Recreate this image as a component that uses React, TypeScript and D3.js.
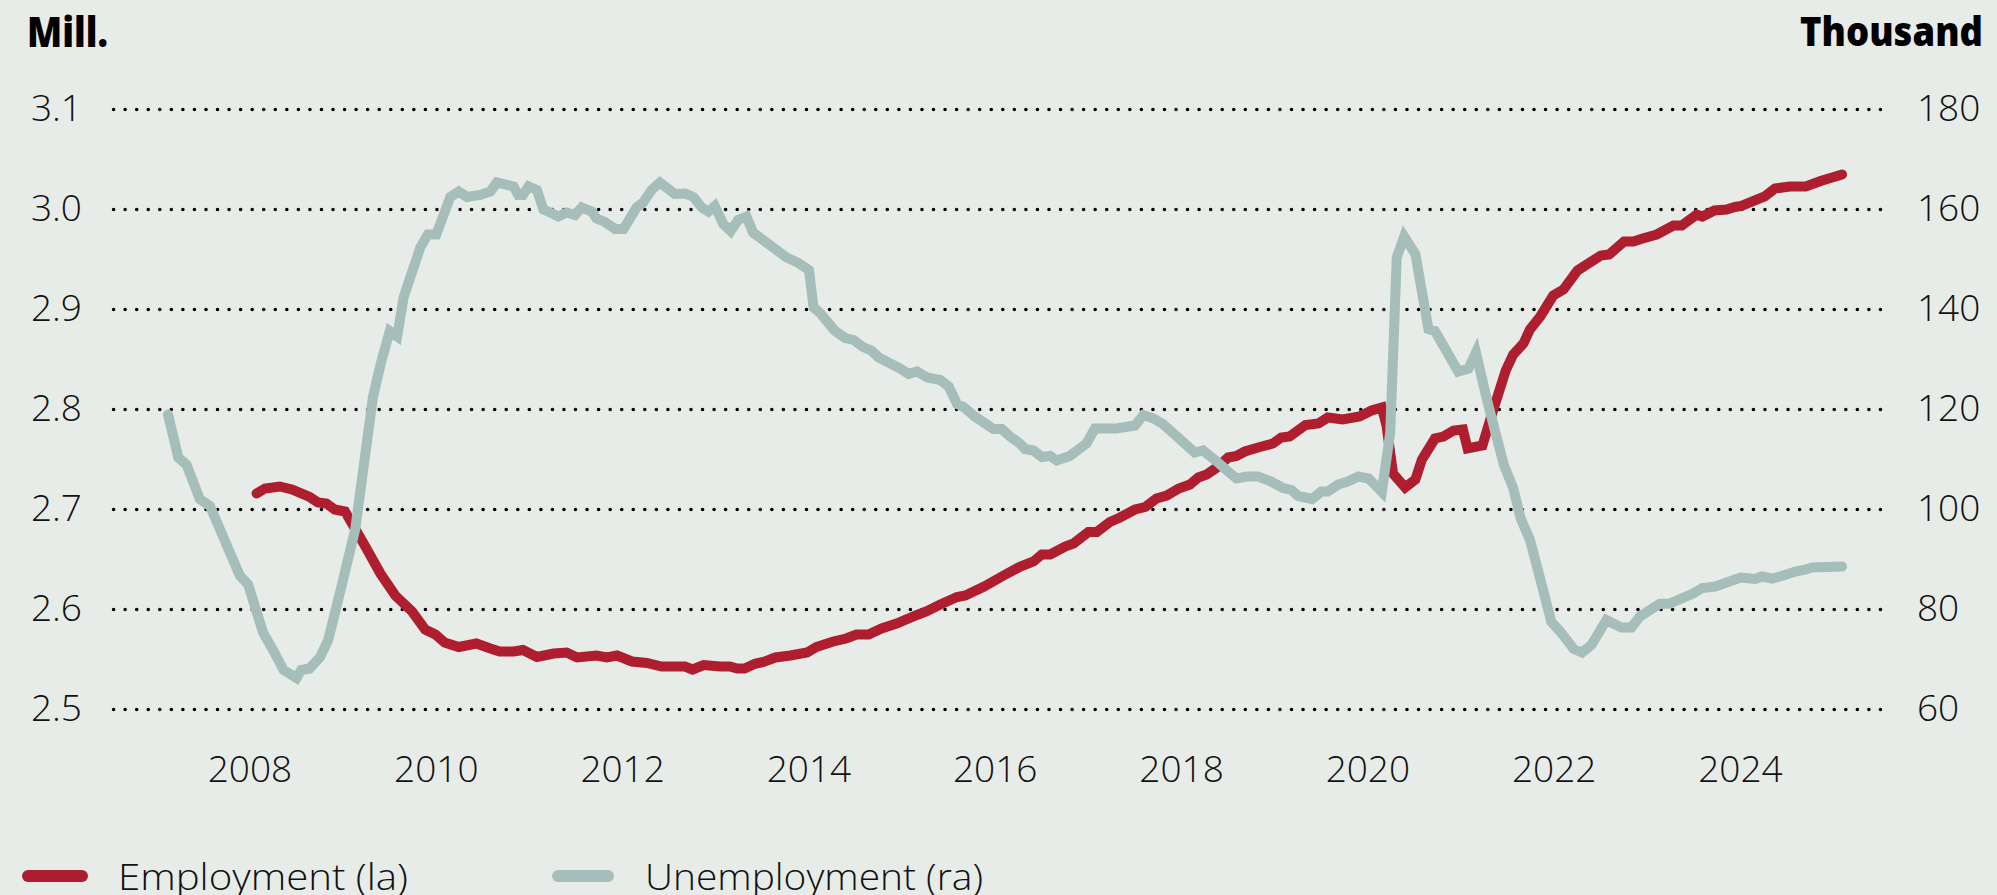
import React from 'react';
import * as d3 from 'd3';

const W = 1997;
const H = 895;

const xTickYears = [2008, 2010, 2012, 2014, 2016, 2018, 2020, 2022, 2024];
const leftTicks = [2.5, 2.6, 2.7, 2.8, 2.9, 3.0, 3.1];
const rightTicks = [60, 80, 100, 120, 140, 160, 180];

// Employment (mill.), left axis — dates as decimal years
const employmentDates = [2008.07, 2008.16, 2008.32, 2008.45, 2008.64, 2008.73, 2008.82, 2008.91, 2009.02, 2009.22, 2009.40, 2009.56, 2009.74, 2009.88, 2009.99, 2010.09, 2010.24, 2010.43, 2010.58, 2010.68, 2010.83, 2010.93, 2011.08, 2011.26, 2011.40, 2011.51, 2011.72, 2011.83, 2011.94, 2012.10, 2012.26, 2012.42, 2012.67, 2012.75, 2012.87, 2013.05, 2013.15, 2013.23, 2013.31, 2013.42, 2013.51, 2013.64, 2013.80, 2013.98, 2014.08, 2014.26, 2014.40, 2014.51, 2014.64, 2014.78, 2014.94, 2015.16, 2015.26, 2015.41, 2015.59, 2015.68, 2015.88, 2016.09, 2016.27, 2016.41, 2016.50, 2016.59, 2016.75, 2016.84, 2017.00, 2017.09, 2017.23, 2017.34, 2017.50, 2017.61, 2017.73, 2017.84, 2017.97, 2018.09, 2018.18, 2018.27, 2018.38, 2018.50, 2018.59, 2018.68, 2018.84, 2018.98, 2019.07, 2019.16, 2019.33, 2019.47, 2019.57, 2019.73, 2019.91, 2020.04, 2020.15, 2020.20, 2020.27, 2020.40, 2020.51, 2020.58, 2020.72, 2020.81, 2020.92, 2021.02, 2021.07, 2021.23, 2021.33, 2021.48, 2021.56, 2021.67, 2021.74, 2021.85, 2021.99, 2022.10, 2022.25, 2022.35, 2022.50, 2022.59, 2022.75, 2022.85, 2022.95, 2023.10, 2023.28, 2023.37, 2023.53, 2023.59, 2023.72, 2023.85, 2023.94, 2024.01, 2024.26, 2024.37, 2024.53, 2024.70, 2024.86, 2025.09];
const employmentValues = [2.716, 2.721, 2.723, 2.720, 2.7125, 2.707, 2.706, 2.700, 2.698, 2.666, 2.636, 2.614, 2.598, 2.580, 2.575, 2.567, 2.5625, 2.566, 2.561, 2.558, 2.558, 2.5595, 2.5525, 2.556, 2.557, 2.552, 2.554, 2.552, 2.554, 2.548, 2.5465, 2.543, 2.543, 2.540, 2.5445, 2.543, 2.543, 2.541, 2.541, 2.5457, 2.5475, 2.552, 2.554, 2.557, 2.5625, 2.568, 2.571, 2.575, 2.575, 2.581, 2.586, 2.5945, 2.598, 2.605, 2.6125, 2.614, 2.623, 2.634, 2.643, 2.648, 2.655, 2.655, 2.663, 2.666, 2.6775, 2.6775, 2.6875, 2.692, 2.700, 2.7025, 2.711, 2.714, 2.721, 2.725, 2.732, 2.735, 2.742, 2.752, 2.7535, 2.758, 2.7625, 2.766, 2.772, 2.773, 2.7845, 2.786, 2.792, 2.790, 2.793, 2.799, 2.802, 2.784, 2.736, 2.722, 2.730, 2.750, 2.771, 2.773, 2.779, 2.780, 2.761, 2.764, 2.795, 2.839, 2.855, 2.866, 2.880, 2.893, 2.914, 2.920, 2.939, 2.945, 2.954, 2.955, 2.968, 2.968, 2.971, 2.975, 2.984, 2.984, 2.995, 2.993, 2.999, 3.000, 3.0025, 3.0035, 3.013, 3.021, 3.023, 3.023, 3.0285, 3.035];

// Unemployment (thousand), right axis
const unemploymentDates = [2007.12, 2007.23, 2007.32, 2007.46, 2007.57, 2007.89, 2007.98, 2008.14, 2008.25, 2008.36, 2008.50, 2008.55, 2008.64, 2008.75, 2008.84, 2009.00, 2009.13, 2009.32, 2009.40, 2009.50, 2009.58, 2009.65, 2009.83, 2009.91, 2010.00, 2010.15, 2010.24, 2010.33, 2010.47, 2010.58, 2010.65, 2010.83, 2010.88, 2010.93, 2010.99, 2011.08, 2011.15, 2011.20, 2011.31, 2011.40, 2011.49, 2011.56, 2011.67, 2011.72, 2011.81, 2011.92, 2012.01, 2012.15, 2012.22, 2012.31, 2012.40, 2012.56, 2012.67, 2012.76, 2012.85, 2012.92, 2012.99, 2013.08, 2013.16, 2013.24, 2013.33, 2013.40, 2013.58, 2013.76, 2013.89, 2014.00, 2014.05, 2014.12, 2014.28, 2014.39, 2014.48, 2014.58, 2014.67, 2014.75, 2014.98, 2015.07, 2015.16, 2015.27, 2015.41, 2015.50, 2015.59, 2015.66, 2015.78, 2015.98, 2016.07, 2016.16, 2016.27, 2016.32, 2016.41, 2016.50, 2016.59, 2016.66, 2016.80, 2016.98, 2017.07, 2017.30, 2017.50, 2017.59, 2017.70, 2017.80, 2017.98, 2018.14, 2018.23, 2018.38, 2018.48, 2018.59, 2018.70, 2018.82, 2018.95, 2019.09, 2019.18, 2019.25, 2019.40, 2019.50, 2019.57, 2019.68, 2019.77, 2019.90, 2020.01, 2020.15, 2020.24, 2020.31, 2020.39, 2020.51, 2020.65, 2020.72, 2020.97, 2021.08, 2021.16, 2021.28, 2021.46, 2021.56, 2021.64, 2021.74, 2021.85, 2021.97, 2022.06, 2022.21, 2022.30, 2022.40, 2022.56, 2022.72, 2022.83, 2022.92, 2023.13, 2023.24, 2023.49, 2023.59, 2023.73, 2024.00, 2024.16, 2024.23, 2024.34, 2024.46, 2024.59, 2024.68, 2024.77, 2025.09];
const unemploymentValues = [119, 110.4, 108.9, 102.1, 100.7, 86.8, 85, 75.4, 71.8, 67.9, 66.3, 67.9, 68.2, 70.4, 73.9, 86, 96.1, 122.5, 128.9, 135.7, 134.6, 142.5, 152.5, 155, 155, 162.5, 163.6, 162.5, 162.9, 163.6, 165.4, 164.6, 162.9, 162.9, 164.6, 163.9, 160, 159.6, 158.6, 159.4, 158.9, 160.4, 159.6, 158.2, 157.5, 156.1, 156.1, 160.4, 161.4, 163.9, 165.4, 163.1, 163.2, 162.5, 160.4, 159.6, 160.7, 157.1, 155.7, 157.9, 158.6, 155.4, 152.9, 150.4, 149.3, 147.9, 140.4, 139.3, 135.7, 134.3, 133.9, 132.5, 131.8, 130.4, 128.2, 127.1, 127.6, 126.4, 125.9, 124.6, 121.1, 120.5, 118.6, 116.1, 116.1, 114.6, 113.1, 112.1, 111.8, 110.5, 110.7, 109.8, 110.7, 113.2, 116.2, 116.2, 116.8, 118.9, 118.2, 117.1, 114.1, 111.4, 111.8, 109.6, 107.9, 106.2, 106.6, 106.6, 105.7, 104.3, 103.9, 102.7, 102.1, 103.6, 103.6, 105, 105.5, 106.6, 106.2, 103.5, 115.4, 150.4, 154.6, 151.1, 136.1, 135.7, 127.6, 128.2, 131.4, 121.8, 108.9, 104.3, 98.2, 93.9, 86.1, 77.5, 75.7, 72.1, 71.4, 72.9, 77.9, 76.4, 76.4, 78.6, 81.1, 81.2, 83.2, 84.3, 84.6, 86.4, 86.1, 86.6, 86.2, 86.8, 87.6, 87.9, 88.4, 88.6];

const leftTitle = 'Mill.';
const rightTitle = 'Thousand';
const legendLabels = ['Employment (la)', 'Unemployment (ra)'];

const RED = '#AE1E2E';
const GREY = '#A6BEB9';
const BG = '#E8ECE9';
const FONT = "'Open Sans', 'DejaVu Sans', sans-serif";

export default function App() {
  const x = d3.scaleLinear().domain([2008, 2024]).range([250, 1740.5]);
  const yL = d3.scaleLinear().domain([2.5, 3.1]).range([709.5, 109.5]);
  const yR = d3.scaleLinear().domain([60, 180]).range([709.5, 109.5]);

  const emp = employmentDates.map((d, i) => [d, employmentValues[i]] as [number, number]);
  const unemp = unemploymentDates.map((d, i) => [d, unemploymentValues[i]] as [number, number]);

  const empLine = d3.line<[number, number]>().x(d => x(d[0])).y(d => yL(d[1]));
  const unempLine = d3.line<[number, number]>().x(d => x(d[0])).y(d => yR(d[1]));

  const gx0 = 113.6;
  const gx1 = 1892;
  const dotGap = (gx1 - gx0) / 154;

  return (
    <svg width={W} height={H} style={{ position: 'absolute', left: 0, top: 0, display: 'block' }}>
      <rect x={0} y={0} width={W} height={H} fill={BG} />
      <text x={27} y={47} fontFamily={FONT} fontWeight={800} fontSize={42} fill="#000" textLength={81} lengthAdjust="spacingAndGlyphs">{leftTitle}</text>
      <text x={1983} y={46} fontFamily={FONT} fontWeight={800} fontSize={41} fill="#000" textAnchor="end" textLength={183} lengthAdjust="spacingAndGlyphs">{rightTitle}</text>

      {leftTicks.map(t => (
        <g key={'g' + t}>
          <line x1={gx0} x2={gx1} y1={yL(t)} y2={yL(t)} stroke="#000" strokeWidth={3.6} strokeLinecap="round" strokeDasharray={`0 ${dotGap}`} />
          <text x={82} y={yL(t) + 11} fontFamily={FONT} fontWeight={300} fontSize={37} textAnchor="end" fill="#111">{t.toFixed(1)}</text>
        </g>
      ))}
      {rightTicks.map(t => (
        <text key={'r' + t} x={1917} y={yR(t) + 11} fontFamily={FONT} fontWeight={300} fontSize={37} fill="#111">{t}</text>
      ))}
      {xTickYears.map(yr => (
        <text key={'x' + yr} x={x(yr)} y={781.5} fontFamily={FONT} fontWeight={300} fontSize={37} textAnchor="middle" fill="#111">{yr}</text>
      ))}

      <path d={empLine(emp) || ''} fill="none" stroke={RED} strokeWidth={10} strokeLinejoin="miter" strokeMiterlimit={4} strokeLinecap="round" />
      <path d={unempLine(unemp) || ''} fill="none" stroke={GREY} strokeWidth={10} strokeLinejoin="miter" strokeMiterlimit={4} strokeLinecap="round" />

      <line x1={28} x2={82} y1={876} y2={876} stroke={RED} strokeWidth={12} strokeLinecap="round" />
      <text x={118} y={890} fontFamily={FONT} fontWeight={300} fontSize={36} fill="#111" textLength={290} lengthAdjust="spacingAndGlyphs">{legendLabels[0]}</text>
      <line x1={558} x2={608} y1={876} y2={876} stroke={GREY} strokeWidth={12} strokeLinecap="round" />
      <text x={645} y={890} fontFamily={FONT} fontWeight={300} fontSize={36} fill="#111" textLength={338} lengthAdjust="spacingAndGlyphs">{legendLabels[1]}</text>
    </svg>
  );
}
